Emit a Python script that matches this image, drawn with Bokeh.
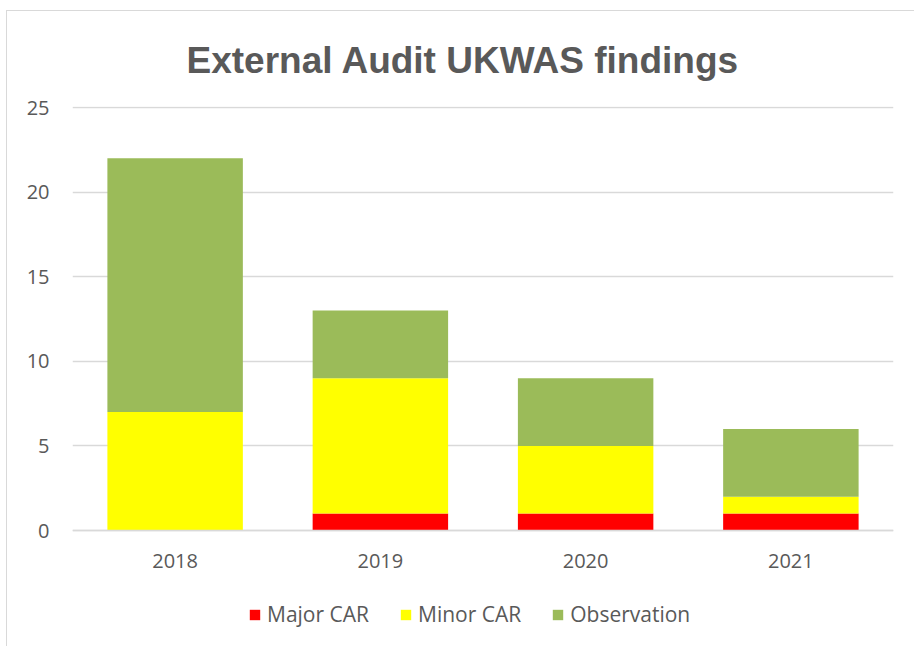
from bokeh.plotting import figure
from bokeh.models import Title, Legend, LegendItem, FixedTicker, FactorRange, Range1d
from bokeh.embed import file_html
from bokeh.resources import INLINE

years = ["2018", "2019", "2020", "2021"]
major_car = [0, 1, 1, 1]
minor_car = [7, 8, 4, 1]
observation = [15, 4, 4, 4]
series_names = ["Major CAR", "Minor CAR", "Observation"]
series_colors = ["#FF0000", "#FFFF00", "#9BBB59"]
y_ticks = [0, 5, 10, 15, 20, 25]

data = {"years": years, "Major CAR": major_car, "Minor CAR": minor_car, "Observation": observation}

# value axis 0..25 spans 423 px; frame starts 1 px above 25 and runs to the bottom edge
px_per_unit = 423 / 25
y_top = 25 + 1 / px_per_unit
y_min = -116 / px_per_unit

p = figure(width=907, height=635, x_range=FactorRange(*years, range_padding=0),
           y_range=Range1d(y_min, y_top), output_backend="svg", toolbar_location=None,
           min_border_left=65, min_border_right=21, min_border_top=95, min_border_bottom=0)
p.styles = {"margin-left": "7px", "margin-top": "11px", "outline": "1.5px solid #D9D9D9"}

renderers = p.vbar_stack(series_names, x="years", width=0.66, color=series_colors,
                         line_color=None, source=data)

title = Title(text="External Audit UKWAS findings", align="left", offset=114,
              text_font="Liberation Sans", text_font_size="37px", text_font_style="bold",
              text_color="#595959", standoff=51)
p.add_layout(title, "above")

p.xgrid.grid_line_color = None
p.ygrid.grid_line_color = "#D9D9D9"
p.ygrid.grid_line_width = 1.5
p.yaxis.ticker = FixedTicker(ticks=y_ticks)
p.ygrid.ticker = FixedTicker(ticks=y_ticks)
p.yaxis.axis_line_color = None
p.yaxis.major_tick_line_color = None
p.yaxis.minor_tick_line_color = None
p.yaxis.major_label_standoff = 17
p.xaxis.fixed_location = 0
p.xaxis.axis_line_color = "#D9D9D9"
p.xaxis.axis_line_width = 1.5
p.xaxis.major_tick_line_color = None
p.xaxis.minor_tick_line_color = None
p.xaxis.major_label_standoff = 17
for ax in (p.xaxis, p.yaxis):
    ax.major_label_text_font = "Open Sans"
    ax.major_label_text_font_size = "20px"
    ax.major_label_text_color = "#595959"
p.outline_line_color = None

legend = Legend(items=[LegendItem(label=n, renderers=[r]) for n, r in zip(series_names, renderers)],
                orientation="horizontal", location=(176, 18), padding=0, margin=0,
                border_line_color=None, background_fill_alpha=0,
                glyph_width=13, glyph_height=13, label_standoff=6, spacing=30,
                label_height=26,
                label_text_font="Open Sans", label_text_font_size="21px",
                label_text_color="#595959")
p.add_layout(legend, "center")

open("out.html", "w").write(file_html(p, INLINE))
